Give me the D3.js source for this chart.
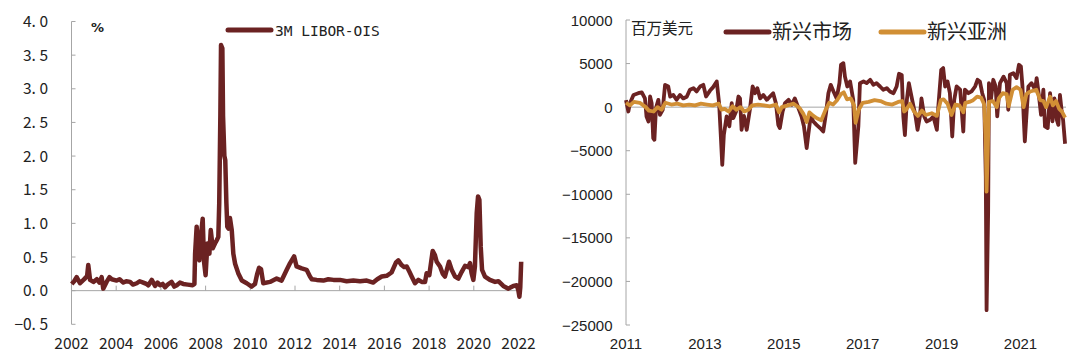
<!DOCTYPE html>
<html>
<head>
<meta charset="utf-8">
<script src="https://cdnjs.cloudflare.com/ajax/libs/d3/7.8.5/d3.min.js"></script>
<style>
body { margin: 0; background: #fff; }
</style>
</head>
<body>
<script>
// dati: spread 3M LIBOR-OIS (%)
var liborT = [2002.01,2002.12,2002.23,2002.38,2002.50,2002.60,2002.70,2002.75,2002.83,2002.98,2003.13,2003.25,2003.35,2003.42,2003.57,2003.70,2003.80,2004.02,2004.15,2004.32,2004.45,2004.62,2004.75,2004.92,2005.05,2005.21,2005.35,2005.44,2005.59,2005.74,2005.85,2005.96,2006.08,2006.18,2006.30,2006.48,2006.60,2006.71,2006.85,2007.00,2007.20,2007.42,2007.50,2007.53,2007.60,2007.65,2007.72,2007.80,2007.87,2007.93,2008.00,2008.08,2008.17,2008.23,2008.32,2008.42,2008.50,2008.57,2008.61,2008.66,2008.69,2008.75,2008.78,2008.84,2008.88,2008.93,2008.97,2009.03,2009.09,2009.17,2009.24,2009.32,2009.46,2009.62,2009.84,2010.06,2010.21,2010.31,2010.39,2010.48,2010.58,2010.88,2011.18,2011.40,2011.63,2011.78,2011.96,2012.07,2012.30,2012.52,2012.67,2012.75,2012.97,2013.27,2013.49,2013.72,2014.01,2014.31,2014.61,2014.91,2015.21,2015.50,2015.68,2015.88,2016.10,2016.32,2016.52,2016.62,2016.77,2016.88,2017.00,2017.12,2017.22,2017.37,2017.52,2017.67,2017.82,2017.89,2018.01,2018.16,2018.26,2018.34,2018.49,2018.61,2018.71,2018.89,2019.01,2019.16,2019.31,2019.46,2019.61,2019.76,2019.83,2019.90,2019.98,2020.05,2020.13,2020.19,2020.25,2020.31,2020.37,2020.50,2020.72,2020.95,2021.10,2021.32,2021.55,2021.77,2021.92,2021.99,2022.04,2022.08,2022.12];
var liborV = [0.10,0.14,0.20,0.11,0.15,0.18,0.22,0.38,0.16,0.13,0.17,0.12,0.20,0.03,0.13,0.20,0.17,0.15,0.17,0.12,0.14,0.13,0.09,0.11,0.14,0.12,0.10,0.08,0.16,0.07,0.12,0.08,0.10,0.05,0.09,0.13,0.06,0.08,0.12,0.10,0.09,0.08,0.10,0.55,0.95,0.70,0.45,0.85,1.07,0.43,0.23,0.70,0.55,0.90,0.63,0.70,0.75,0.80,1.30,2.60,3.65,3.60,2.60,2.00,1.94,1.30,0.95,0.92,1.08,0.90,0.55,0.40,0.26,0.15,0.11,0.06,0.10,0.25,0.34,0.32,0.11,0.13,0.18,0.15,0.31,0.41,0.51,0.36,0.33,0.31,0.21,0.17,0.16,0.15,0.17,0.16,0.16,0.14,0.15,0.14,0.15,0.12,0.17,0.21,0.22,0.27,0.42,0.45,0.38,0.35,0.36,0.28,0.21,0.11,0.16,0.13,0.13,0.26,0.23,0.59,0.53,0.43,0.36,0.25,0.21,0.43,0.31,0.21,0.18,0.28,0.37,0.35,0.41,0.26,0.16,0.36,1.15,1.40,1.35,0.65,0.31,0.21,0.16,0.13,0.14,0.07,0.03,0.07,0.08,0.01,-0.09,0.05,0.43];
var leftYTicks = [-0.5,0,0.5,1,1.5,2,2.5,3,3.5,4];
var leftXTicks = [2002,2004,2006,2008,2010,2012,2014,2016,2018,2020,2022];

// flussi di fondi (百万美元): 新兴市场
var emT = [2011.00,2011.06,2011.10,2011.19,2011.31,2011.40,2011.48,2011.52,2011.57,2011.61,2011.65,2011.69,2011.72,2011.76,2011.82,2011.86,2011.93,2011.99,2012.07,2012.12,2012.20,2012.28,2012.37,2012.45,2012.54,2012.62,2012.71,2012.79,2012.88,2012.96,2013.03,2013.13,2013.21,2013.30,2013.36,2013.40,2013.44,2013.48,2013.55,2013.62,2013.68,2013.72,2013.79,2013.85,2013.89,2013.93,2013.99,2014.06,2014.14,2014.21,2014.27,2014.33,2014.40,2014.48,2014.57,2014.65,2014.73,2014.80,2014.86,2014.90,2014.97,2015.03,2015.12,2015.20,2015.28,2015.37,2015.45,2015.51,2015.58,2015.62,2015.68,2015.75,2015.83,2015.92,2016.00,2016.07,2016.13,2016.19,2016.26,2016.34,2016.41,2016.45,2016.51,2016.55,2016.61,2016.68,2016.76,2016.81,2016.89,2016.93,2017.02,2017.10,2017.19,2017.27,2017.35,2017.44,2017.52,2017.61,2017.69,2017.78,2017.86,2017.92,2017.99,2018.03,2018.07,2018.12,2018.17,2018.22,2018.28,2018.34,2018.39,2018.45,2018.49,2018.56,2018.62,2018.71,2018.79,2018.88,2018.92,2018.99,2019.04,2019.09,2019.15,2019.21,2019.27,2019.32,2019.38,2019.47,2019.55,2019.59,2019.68,2019.76,2019.85,2019.91,2019.97,2020.03,2020.08,2020.12,2020.14,2020.18,2020.20,2020.25,2020.31,2020.37,2020.41,2020.48,2020.57,2020.65,2020.69,2020.73,2020.82,2020.90,2020.96,2021.01,2021.05,2021.08,2021.11,2021.16,2021.20,2021.28,2021.37,2021.41,2021.47,2021.52,2021.58,2021.62,2021.69,2021.75,2021.81,2021.86,2021.92,2021.96,2022.00,2022.04,2022.08,2022.13];
var emV = [800,-500,460,1400,1600,1700,1000,-1070,-1640,1220,460,-3560,-3750,-100,840,-880,-300,2560,2370,1220,1400,840,1400,1000,1200,2000,2180,1800,2370,2560,1220,1900,2300,2950,460,-3000,-6620,-3200,-1070,-2200,460,-1260,-500,1220,1000,-2600,-1000,-2600,-300,2370,1600,2180,1000,1400,840,1220,1600,460,-2030,-2400,-500,460,840,270,1000,-100,-1070,-2200,-4700,-3200,-1070,-1640,-2030,-2400,-2800,-700,1600,2560,1800,1000,2750,4860,5050,3500,2370,2950,840,-6400,-2200,2750,2950,2750,3140,2560,2750,2370,2000,2180,1800,1600,2370,3830,3700,-1070,-3200,840,2750,1600,270,-1070,-2600,-1070,1000,-1070,-1640,-1450,-1070,-2600,270,4280,4480,2370,2950,1600,-3370,840,2370,2000,-2800,2000,1600,1800,2370,3140,2950,1600,840,-8000,-23300,-12000,2750,840,3140,2370,-1070,2750,3500,2750,-300,3710,3900,3330,4860,4670,2370,-1070,-3940,-300,2370,2750,2000,3330,1220,-880,2000,-2200,-2400,1600,-1640,1000,-1450,-2030,1400,-300,-1500,-4200];

// 新兴亚洲
var asiaT = [2011.00,2011.10,2011.20,2011.35,2011.50,2011.58,2011.70,2011.80,2011.90,2012.00,2012.15,2012.30,2012.45,2012.60,2012.75,2012.90,2013.05,2013.20,2013.35,2013.42,2013.50,2013.60,2013.70,2013.80,2013.90,2014.00,2014.10,2014.20,2014.35,2014.50,2014.65,2014.80,2014.88,2014.95,2015.10,2015.25,2015.40,2015.50,2015.58,2015.65,2015.75,2015.85,2015.95,2016.05,2016.15,2016.25,2016.35,2016.45,2016.52,2016.60,2016.70,2016.78,2016.82,2016.90,2017.00,2017.15,2017.30,2017.45,2017.60,2017.75,2017.90,2018.00,2018.05,2018.10,2018.20,2018.30,2018.40,2018.50,2018.60,2018.75,2018.88,2018.98,2019.05,2019.15,2019.25,2019.35,2019.45,2019.55,2019.60,2019.70,2019.80,2019.90,2020.00,2020.08,2020.12,2020.14,2020.17,2020.20,2020.30,2020.40,2020.45,2020.55,2020.65,2020.70,2020.80,2020.90,2021.00,2021.08,2021.15,2021.25,2021.40,2021.50,2021.58,2021.65,2021.75,2021.82,2021.90,2021.98,2022.05,2022.13];
var asiaV = [500,200,600,500,0,-400,-500,0,-300,500,300,400,200,300,200,400,300,200,400,-300,-200,-500,100,-300,0,-500,-300,200,300,200,100,300,-600,0,200,400,-100,-800,-1700,-600,-1000,-1300,-1500,-400,500,300,800,1500,1700,900,1000,200,-1800,-300,500,600,800,700,400,300,600,700,-500,-300,400,-500,-1000,-400,-900,-700,-1000,800,900,400,-900,300,200,-600,500,600,800,1200,1100,300,-4000,-9700,-5000,600,700,0,1000,1600,1500,100,2000,2300,2000,0,1500,1800,2000,800,700,0,1200,200,700,-200,-500,-1200];
var rightYTicks = [-25000,-20000,-15000,-10000,-5000,0,5000,10000];
var rightXTicks = [2011,2013,2015,2017,2019,2021];

var maroon = "#6b2222";
var orange = "#d18f35";
var axisCol = "#a6a6a6";

var svg = d3.select("body").append("svg")
    .attr("width", 1080)
    .attr("height", 355)
    .style("background", "#fff");

// ---- grafico sinistro ----
var xL = d3.scaleLinear().domain([2002, 2022]).range([71.5, 518.5]);
var yL = d3.scaleLinear().domain([-0.5, 4]).range([324.3, 21.5]);

var gL = svg.append("g");

// asse y
gL.append("line")
    .attr("x1", xL(2002)).attr("x2", xL(2002))
    .attr("y1", yL(4)).attr("y2", yL(-0.5))
    .attr("stroke", axisCol).attr("stroke-width", 1);
gL.selectAll(".ytL").data(leftYTicks).enter().append("line")
    .attr("x1", xL(2002)).attr("x2", xL(2002) + 4)
    .attr("y1", function(d){ return yL(d); })
    .attr("y2", function(d){ return yL(d); })
    .attr("stroke", axisCol);
gL.selectAll(".ylabL").data(leftYTicks).enter().append("text")
    .attr("x", 48)
    .attr("y", function(d){ return yL(d) + 5.5; })
    .attr("text-anchor", "end")
    .attr("font-family", "'Noto Sans CJK SC', 'DejaVu Sans', sans-serif")
    .attr("font-size", 15.5)
    .attr("fill", "#222")
    .text(function(d){ return d3.format(".1f")(d).replace("-", "\u2212").replace(".", ". "); });

// asse x sullo zero
gL.append("line")
    .attr("x1", xL(2002)).attr("x2", xL(2022))
    .attr("y1", yL(0)).attr("y2", yL(0))
    .attr("stroke", axisCol);
gL.selectAll(".xtL").data(leftXTicks).enter().append("line")
    .attr("x1", function(d){ return xL(d); })
    .attr("x2", function(d){ return xL(d); })
    .attr("y1", yL(0)).attr("y2", yL(0) - 5)
    .attr("stroke", axisCol);
gL.selectAll(".xlabL").data(leftXTicks).enter().append("text")
    .attr("x", function(d){ return xL(d); })
    .attr("y", 349)
    .attr("text-anchor", "middle")
    .attr("font-family", "'Noto Sans CJK SC', 'DejaVu Sans', sans-serif")
    .attr("font-size", 15.5)
    .attr("fill", "#222")
    .text(function(d){ return d; });

// linea
var leftData = liborT.map(function(t, i){ return {t: t, v: liborV[i]}; });
gL.append("path")
    .datum(leftData)
    .attr("fill", "none")
    .attr("stroke", maroon)
    .attr("stroke-width", 4.5)
    .attr("stroke-linejoin", "round")
    .attr("d", d3.line().x(function(d){ return xL(d.t); }).y(function(d){ return yL(d.v); }));

// unità e legenda
gL.append("text")
    .attr("x", 91).attr("y", 32)
    .attr("font-family", "'DejaVu Sans', sans-serif")
    .attr("font-size", 13).attr("font-weight", "bold")
    .attr("fill", "#222")
    .text("%");
gL.append("line")
    .attr("x1", 228).attr("x2", 271)
    .attr("y1", 30).attr("y2", 30)
    .attr("stroke", maroon).attr("stroke-width", 5).attr("stroke-linecap", "round");
gL.append("text")
    .attr("x", 275).attr("y", 35.5)
    .attr("font-family", "'DejaVu Sans Mono', monospace")
    .attr("font-size", 14.5)
    .attr("fill", "#222")
    .text("3M LIBOR-OIS");

// ---- grafico destro ----
var xR = d3.scaleLinear().domain([2011, 2021]).range([626, 1020.5]);
var yR = d3.scaleLinear().domain([-25000, 10000]).range([325, 20]);

var gR = svg.append("g");

gR.append("line")
    .attr("x1", xR(2011)).attr("x2", xR(2011))
    .attr("y1", yR(10000)).attr("y2", yR(-25000))
    .attr("stroke", axisCol);
gR.selectAll(".ytR").data(rightYTicks).enter().append("line")
    .attr("x1", xR(2011)).attr("x2", xR(2011) + 4)
    .attr("y1", function(d){ return yR(d); })
    .attr("y2", function(d){ return yR(d); })
    .attr("stroke", axisCol);
gR.selectAll(".ylabR").data(rightYTicks).enter().append("text")
    .attr("x", 612.5)
    .attr("y", function(d){ return yR(d) + 5.5; })
    .attr("text-anchor", "end")
    .attr("font-family", "'Liberation Sans', Arial, sans-serif")
    .attr("font-size", 15)
    .attr("fill", "#222")
    .text(function(d){ return String(d).replace("-", "\u2212"); });

gR.append("line")
    .attr("x1", xR(2011)).attr("x2", 1066)
    .attr("y1", yR(0)).attr("y2", yR(0))
    .attr("stroke", axisCol);
gR.selectAll(".xlabR").data(rightXTicks).enter().append("text")
    .attr("x", function(d){ return xR(d); })
    .attr("y", 349)
    .attr("text-anchor", "middle")
    .attr("font-family", "'Liberation Sans', Arial, sans-serif")
    .attr("font-size", 15)
    .attr("fill", "#222")
    .text(function(d){ return d; });

var lineR = d3.line().x(function(d){ return xR(d.t); }).y(function(d){ return yR(d.v); });
var emData = emT.map(function(t, i){ return {t: t, v: emV[i]}; });
var asiaData = asiaT.map(function(t, i){ return {t: t, v: asiaV[i]}; });

gR.append("path").datum(emData)
    .attr("fill", "none").attr("stroke", maroon)
    .attr("stroke-width", 3.8).attr("stroke-linejoin", "round")
    .attr("d", lineR);
gR.append("path").datum(asiaData)
    .attr("fill", "none").attr("stroke", orange)
    .attr("stroke-width", 3.8).attr("stroke-linejoin", "round")
    .attr("d", lineR);

// unità e legenda
gR.append("text")
    .attr("x", 631).attr("y", 34)
    .attr("font-family", "'Noto Sans CJK SC', sans-serif")
    .attr("font-size", 15.5)
    .attr("fill", "#222")
    .text("百万美元");

var legR = [{name: "新兴市场", color: maroon, x: 726}, {name: "新兴亚洲", color: orange, x: 881}];
legR.forEach(function(l){
    gR.append("line")
        .attr("x1", l.x).attr("x2", l.x + 43)
        .attr("y1", 32).attr("y2", 32)
        .attr("stroke", l.color).attr("stroke-width", 5).attr("stroke-linecap", "round");
    gR.append("text")
        .attr("x", l.x + 46).attr("y", 39)
        .attr("font-family", "'Noto Sans CJK SC', sans-serif")
        .attr("font-size", 20)
        .attr("fill", "#222")
        .text(l.name);
});
</script>
</body>
</html>
